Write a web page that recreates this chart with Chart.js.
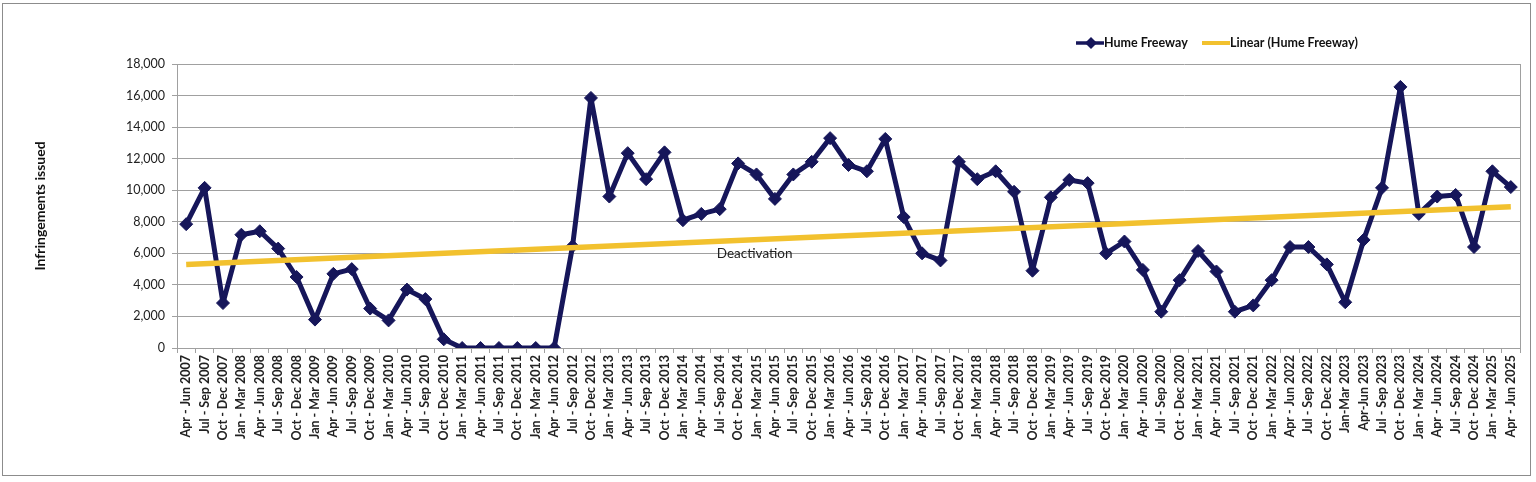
<!DOCTYPE html>
<html lang="en">
<head>
    <meta charset="UTF-8">
    <script src="https://cdn.jsdelivr.net/npm/chart.js"></script>
    <style>
        body {
            margin: 0;
            background: #fff;
        }
        #wrap {
            position: relative;
            width: 1536px;
            height: 482px;
        }
        #frame {
            position: absolute;
            left: 2px;
            top: 3px;
            width: 1527px;
            height: 471px;
            border: 1px solid #8c8c8c;
        }
        #hume {
            position: absolute;
            left: 0;
            top: 0;
        }
    </style>
    <title>Hume Freeway</title>
</head>
<body>
    <div id="wrap">
        <div id="frame"></div>
        <canvas id="hume" width="1536" height="482"></canvas>
    </div>
<script>
    // quarters, Apr-Jun 2007 .. Apr-Jun 2025
    var quarters = [
        "Apr - Jun 2007", "Jul - Sep 2007", "Oct - Dec 2007",
        "Jan - Mar 2008", "Apr - Jun 2008", "Jul - Sep 2008", "Oct - Dec 2008",
        "Jan - Mar 2009", "Apr - Jun 2009", "Jul - Sep 2009", "Oct - Dec 2009",
        "Jan - Mar 2010", "Apr - Jun 2010", "Jul - Sep 2010", "Oct - Dec 2010",
        "Jan - Mar 2011", "Apr - Jun 2011", "Jul - Sep 2011", "Oct - Dec 2011",
        "Jan - Mar 2012", "Apr - Jun 2012", "Jul - Sep 2012", "Oct - Dec 2012",
        "Jan - Mar 2013", "Apr - Jun 2013", "Jul - Sep 2013", "Oct - Dec 2013",
        "Jan - Mar 2014", "Apr - Jun 2014", "Jul - Sep 2014", "Oct - Dec 2014",
        "Jan - Mar 2015", "Apr - Jun 2015", "Jul - Sep 2015", "Oct - Dec 2015",
        "Jan - Mar 2016", "Apr - Jun 2016", "Jul - Sep 2016", "Oct - Dec 2016",
        "Jan - Mar 2017", "Apr - Jun 2017", "Jul - Sep 2017", "Oct - Dec 2017",
        "Jan - Mar 2018", "Apr - Jun 2018", "Jul - Sep 2018", "Oct - Dec 2018",
        "Jan - Mar 2019", "Apr - Jun 2019", "Jul - Sep 2019", "Oct - Dec 2019",
        "Jan - Mar 2020", "Apr - Jun 2020", "Jul - Sep 2020", "Oct - Dec 2020",
        "Jan - Mar 2021", "Apr - Jun 2021", "Jul - Sep 2021", "Oct - Dec 2021",
        "Jan - Mar 2022", "Apr - Jun 2022", "Jul - Sep 2022", "Oct - Dec 2022",
        "Jan-Mar 2023", "Apr-Jun 2023", "Jul - Sep 2023", "Oct - Dec 2023",
        "Jan - Mar 2024", "Apr - Jun 2024", "Jul - Sep 2024", "Oct - Dec 2024",
        "Jan - Mar 2025", "Apr - Jun 2025"
    ];

    var humeFreeway = [
        7850, 10150, 2850,
        7180, 7400, 6300, 4500,
        1800, 4700, 5000, 2500,
        1750, 3700, 3100, 550,
        0, 0, 0, 0,
        0, 0, 6450, 15850,
        9600, 12350, 10700, 12400,
        8100, 8500, 8800, 11700,
        11000, 9450, 11000, 11800,
        13300, 11600, 11200, 13250,
        8300, 6000, 5550, 11800,
        10700, 11200, 9900, 4900,
        9550, 10650, 10450, 6000,
        6750, 4950, 2300, 4300,
        6150, 4850, 2300, 2700,
        4300, 6400, 6400, 5300,
        2900, 6850, 10150, 16550,
        8500, 9600, 9700, 6400,
        11200, 10200
    ];

    // trend line: first and last quarter
    var trendStart = 5300;
    var trendEnd = 8950;
    var trendLine = quarters.map(function (q, i) {
        if (i === 0) return trendStart;
        if (i === quarters.length - 1) return trendEnd;
        return null;
    });

    var yTicks = [0, 2000, 4000, 6000, 8000, 10000, 12000, 14000, 16000, 18000];

    var noteText = "Deactivation";
    var noteAt = 30.9;      // category position
    var noteValue = 5950;

    var navy = '#16165a';
    var gold = '#f2c12e';
    var gridGray = '#a0a0a0';
    var fontName = 'Lato, "Open Sans", sans-serif';

    // extras: right border of plot, note text, legend
    var extras = {
        id: 'extras',
        afterDraw: function (c) {
            var ctx = c.ctx;
            var a = c.chartArea;
            ctx.save();
            ctx.strokeStyle = gridGray;
            ctx.lineWidth = 1;
            ctx.beginPath();
            ctx.moveTo(Math.round(a.right) + 0.5, a.top);
            ctx.lineTo(Math.round(a.right) + 0.5, a.bottom);
            ctx.stroke();

            // note
            var x = c.scales.x.getPixelForValue(noteAt);
            var y = c.scales.y.getPixelForValue(noteValue);
            ctx.fillStyle = '#222';
            ctx.font = '13.5px ' + fontName;
            ctx.textAlign = 'center';
            ctx.textBaseline = 'middle';
            ctx.fillText(noteText, x, y);

            // legend
            var ly = 43;
            ctx.font = 'bold 12.5px ' + fontName;
            ctx.textAlign = 'left';
            ctx.strokeStyle = navy;
            ctx.lineWidth = 3.5;
            ctx.beginPath();
            ctx.moveTo(1076, ly);
            ctx.lineTo(1104, ly);
            ctx.stroke();
            ctx.fillStyle = navy;
            ctx.beginPath();
            ctx.moveTo(1091, ly - 6);
            ctx.lineTo(1097, ly);
            ctx.lineTo(1091, ly + 6);
            ctx.lineTo(1085, ly);
            ctx.closePath();
            ctx.fill();
            ctx.fillStyle = '#111';
            ctx.fillText('Hume Freeway', 1104, ly);

            ctx.strokeStyle = gold;
            ctx.lineWidth = 4;
            ctx.beginPath();
            ctx.moveTo(1202, ly);
            ctx.lineTo(1230, ly);
            ctx.stroke();
            ctx.fillText('Linear (Hume Freeway)', 1230, ly);
            ctx.restore();
        }
    };

    var chart = new Chart(document.getElementById('hume'), {
        type: 'line',
        data: {
            labels: quarters,
            datasets: [
                {
                    label: 'Hume Freeway',
                    data: humeFreeway,
                    borderColor: navy,
                    backgroundColor: navy,
                    borderWidth: 5,
                    borderJoinStyle: 'round',
                    borderCapStyle: 'round',
                    pointStyle: 'rectRot',
                    pointRadius: 6.5,
                    pointBorderWidth: 1,
                    tension: 0,
                    order: 2
                },
                {
                    label: 'Linear (Hume Freeway)',
                    data: trendLine,
                    borderColor: gold,
                    backgroundColor: gold,
                    borderWidth: 5.5,
                    pointRadius: 0,
                    spanGaps: true,
                    order: 1
                }
            ]
        },
        options: {
            responsive: false,
            animation: false,
            devicePixelRatio: 1,
            layout: {
                padding: { left: 0, right: 16, top: 64, bottom: 0 }
            },
            plugins: {
                legend: { display: false },
                tooltip: { enabled: false }
            },
            scales: {
                x: {
                    offset: true,
                    grid: {
                        offset: true,
                        drawOnChartArea: false,
                        drawTicks: true,
                        tickLength: 5,
                        color: gridGray
                    },
                    border: { color: gridGray },
                    ticks: {
                        autoSkip: false,
                        maxRotation: 90,
                        minRotation: 90,
                        padding: 2,
                        color: '#222',
                        font: { family: fontName, size: 12.5, weight: 'bold' }
                    },
                    afterFit: function (s) { s.height = 134; }
                },
                y: {
                    min: 0,
                    max: 18000,
                    afterBuildTicks: function (s) {
                        s.ticks = yTicks.map(function (v) { return { value: v }; });
                    },
                    grid: {
                        color: gridGray,
                        tickLength: 5
                    },
                    border: { color: gridGray },
                    ticks: {
                        padding: 7,
                        color: '#222',
                        font: { family: fontName, size: 12.5 },
                        callback: function (v) { return v.toLocaleString('en-US'); }
                    },
                    title: {
                        display: true,
                        text: 'Infringements issued',
                        color: '#111',
                        padding: { top: 32, bottom: 0 },
                        font: { family: fontName, size: 14, weight: 'bold' }
                    },
                    afterFit: function (s) { s.width = 177; }
                }
            }
        },
        plugins: [extras]
    });
</script>
</body>
</html>
